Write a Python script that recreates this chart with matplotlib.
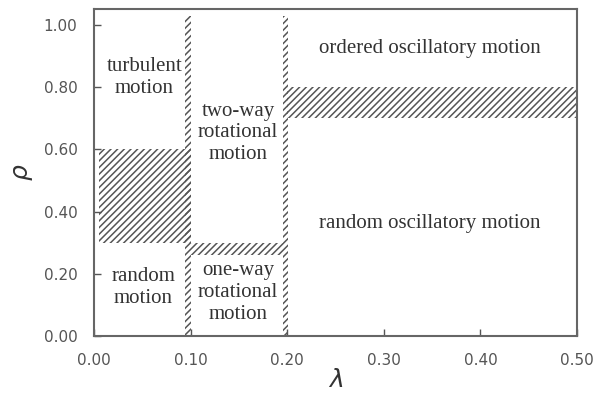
import matplotlib
matplotlib.use("Agg")
import matplotlib.pyplot as plt
from matplotlib.patches import Rectangle

# Hatched transition regions: (lambda_min, lambda_max, rho_min, rho_max)
boundary_lam0 = [0.094, 0.196, 0.196, 0.005, 0.200]
boundary_lam1 = [0.100, 0.201, 0.100, 0.100, 0.500]
boundary_rho0 = [0.00, 0.00, 0.26, 0.30, 0.70]
boundary_rho1 = [1.03, 1.03, 0.30, 0.60, 0.80]

# Region labels
label_texts = ["turbulent\nmotion", "two-way\nrotational\nmotion",
               "ordered oscillatory motion", "random\nmotion",
               "one-way\nrotational\nmotion", "random oscillatory motion"]
label_lam = [0.052, 0.149, 0.348, 0.051, 0.149, 0.348]
label_rho = [0.83, 0.653, 0.925, 0.155, 0.14, 0.363]

xticks = [0.0, 0.1, 0.2, 0.3, 0.4, 0.5]
yticks = [0.0, 0.2, 0.4, 0.6, 0.8, 1.0]

plt.rcParams['hatch.linewidth'] = 1.1

fig = plt.figure(figsize=(6.03, 3.96), dpi=100)
ax = fig.add_axes([0.156, 0.1515, 0.801, 0.8255])

hcol = '#555555'
for x0, x1, y0, y1 in zip(boundary_lam0, boundary_lam1, boundary_rho0, boundary_rho1):
    ax.add_patch(Rectangle((x0, y0), x1 - x0, y1 - y0, fill=False,
                           hatch='/////', edgecolor=hcol, linewidth=0))

for t, x, y in zip(label_texts, label_lam, label_rho):
    ax.text(x, y, t, ha='center', va='center', fontsize=15,
            family='Liberation Serif', color='#333333', linespacing=1.2)

ax.set_xlim(0, 0.5)
ax.set_ylim(0, 1.051)
ax.set_xticks(xticks)
ax.set_yticks(yticks)
ax.set_xticklabels([f"{v:.2f}" for v in xticks])
ax.set_yticklabels([f"{v:.2f}" for v in yticks])
ax.tick_params(direction='in', length=5, width=1, color='#555555',
               labelcolor='#555555', labelsize=11, pad=12)
for s in ax.spines.values():
    s.set_color('#666666')
    s.set_linewidth(1.5)

ax.set_xlabel(r'$\lambda$', fontsize=18, color='#333333', labelpad=0)
ax.set_ylabel(r'$\rho$', fontsize=18, color='#333333', labelpad=6)

fig.savefig("out.png", dpi=100)
